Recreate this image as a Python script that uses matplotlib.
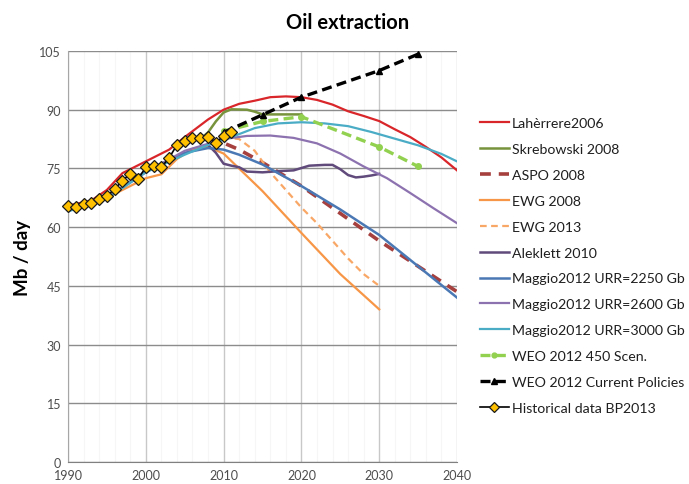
import matplotlib
matplotlib.use("Agg")
import matplotlib.pyplot as plt
import numpy as np

plt.rcParams['font.family'] = ['Lato', 'DejaVu Sans']

# historical production (BP 2013), Mb/day
hist_years = list(range(1990, 2012))
hist_vals = [65.5, 65.1, 65.9, 66.2, 67.2, 68.0, 69.7, 71.9, 73.6, 72.3, 75.3,
             75.5, 75.3, 77.7, 81.0, 82.1, 82.7, 82.7, 83.0, 81.5, 83.4, 84.2]

laherrere_years = [1990, 1993, 1995, 1997, 2000, 2003, 2005, 2008, 2010, 2012, 2014,
                   2016, 2018, 2020, 2022, 2024, 2026, 2028, 2030, 2032, 2034, 2036,
                   2038, 2040]
laherrere_vals = [65.5, 66.8, 69.5, 73.8, 76.8, 79.8, 83.0, 87.5, 90.0, 91.5, 92.3,
                  93.2, 93.4, 93.2, 92.5, 91.3, 89.6, 88.4, 87.1, 85.0, 83.0, 80.5,
                  77.8, 74.5]

skrebowski_years = [2007, 2008, 2009, 2010, 2011, 2013, 2014, 2015, 2020]
skrebowski_vals = [82.5, 84.2, 87.0, 89.3, 90.1, 90.0, 89.5, 88.8, 88.8]

aspo_years = [2008, 2010, 2012, 2015, 2020, 2025, 2030, 2035, 2040]
aspo_vals = [82.5, 81.5, 79.8, 76.5, 70.5, 63.5, 56.5, 50.0, 43.5]

ewg08_years = [1990, 1995, 1999, 2000, 2002, 2004, 2006, 2008, 2010, 2015, 2020, 2025, 2030]
ewg08_vals = [64.8, 67.5, 71.5, 72.5, 73.5, 77.4, 80.0, 80.5, 78.8, 69.2, 58.5, 48.0, 39.0]

ewg13_years = [2010, 2012, 2014, 2016, 2018, 2020, 2022, 2024, 2026, 2028, 2030]
ewg13_vals = [83.0, 82.5, 79.5, 74.0, 69.5, 65.0, 61.0, 56.5, 52.0, 48.0, 45.0]

aleklett_years = [2008, 2009, 2010, 2011, 2012, 2013, 2015, 2017, 2019, 2021, 2023,
                  2024, 2025, 2026, 2027, 2028, 2029, 2030]
aleklett_vals = [81.0, 79.0, 76.2, 75.7, 75.3, 74.2, 74.0, 74.3, 74.5, 75.7, 75.9,
                 75.9, 74.8, 73.3, 72.7, 72.9, 73.2, 73.6]

m2250_years = [1990, 1995, 2000, 2005, 2008, 2010, 2012, 2015, 2020, 2025, 2030, 2035, 2040]
m2250_vals = [64.5, 67.5, 74.3, 79.0, 80.2, 79.8, 78.5, 76.0, 70.5, 64.5, 58.0, 50.0, 42.0]

m2600_years = [1990, 1995, 2000, 2005, 2010, 2013, 2016, 2019, 2022, 2025, 2028, 2031,
               2034, 2037, 2040]
m2600_vals = [64.5, 67.5, 74.0, 79.5, 82.5, 83.3, 83.4, 82.8, 81.4, 78.8, 75.5, 72.5,
              68.7, 64.8, 61.0]

m3000_years = [1990, 1995, 2000, 2005, 2008, 2011, 2014, 2017, 2020, 2023, 2026, 2029,
               2032, 2035, 2038, 2040]
m3000_vals = [64.0, 67.3, 74.0, 78.5, 81.0, 83.0, 85.3, 86.5, 86.8, 86.5, 85.8, 84.3,
              82.6, 80.9, 78.7, 76.8]

weo_years = [2010, 2015, 2020, 2030, 2035]
weo450_vals = [84.5, 87.0, 88.2, 80.5, 75.5]
weocp_vals = [84.2, 88.7, 93.2, 100.0, 104.2]

fig = plt.figure(figsize=(6.89, 4.85), dpi=100)
ax = fig.add_axes([0.0987, 0.0454, 0.5646, 0.8474])

ax.plot(laherrere_years, laherrere_vals, color='#d9262a', lw=1.6, label='Lahèrrere2006')
ax.plot(skrebowski_years, skrebowski_vals, color='#77933c', lw=1.8, label='Skrebowski 2008')
ax.plot(aspo_years, aspo_vals, color='#a5403e', lw=2.6, ls=(0, (3, 2.2)), label='ASPO 2008')
ax.plot(ewg08_years, ewg08_vals, color='#f79646', lw=1.6, label='EWG 2008')
ax.plot(ewg13_years, ewg13_vals, color='#f9a766', lw=1.6, ls=(0, (3, 2)), label='EWG 2013')
ax.plot(aleklett_years, aleklett_vals, color='#604a7b', lw=1.8, label='Aleklett 2010')
ax.plot(m2250_years, m2250_vals, color='#4a78b4', lw=1.8, label='Maggio2012 URR=2250 Gb')
ax.plot(m2600_years, m2600_vals, color='#8d72b0', lw=1.6, label='Maggio2012 URR=2600 Gb')
ax.plot(m3000_years, m3000_vals, color='#4bacc6', lw=1.6, label='Maggio2012 URR=3000 Gb')
ax.plot(weo_years, weo450_vals, color='#92d050', lw=2.4, ls=(0, (3, 1.6)),
        marker='o', ms=4, label='WEO 2012 450 Scen.')
ax.plot(weo_years, weocp_vals, color='black', lw=2.4, ls=(0, (3, 1.6)),
        marker='^', ms=5, label='WEO 2012 Current Policies')
ax.plot(hist_years, hist_vals, color='black', lw=1.2, marker='D', ms=6.5,
        mfc='#ffc000', mec='#1a1a1a', mew=0.9, clip_on=False, zorder=5,
        label='Historical data BP2013')

ax.set_xlim(1990, 2040)
ax.set_ylim(0, 105)
ax.set_xticks(range(1990, 2041, 10))
ax.set_yticks(range(0, 106, 15))
ax.set_xticks(range(1990, 2041, 2), minor=True)
ax.grid(axis='y', color='#8c8c8c', lw=1.0)
ax.grid(axis='x', which='major', color='#c8c8c8', lw=1.0)
ax.grid(axis='x', which='minor', color='#f6f6f6', lw=0.8)
ax.set_axisbelow(True)
ax.tick_params(which='both', length=0, labelsize=9, colors='#4d4d4d', pad=5)
for side in ['top', 'right']:
    ax.spines[side].set_visible(False)
ax.spines['left'].set_color('#a6a6a6')
ax.spines['bottom'].set_color('#808080')

ax.set_ylabel('Mb / day', fontsize=13.5, fontweight='bold', labelpad=6)
fig.text(0.505, 0.952, 'Oil extraction', ha='center', va='center',
         fontsize=14.5, fontweight='bold')

leg = ax.legend(loc='upper left', bbox_to_anchor=(1.027, 0.870), frameon=False,
                fontsize=10.2, handlelength=2.0, handletextpad=0.25, labelspacing=0.98,
                labelcolor='#1f1f1f')
leg.legend_handles[-1].set_markersize(5)
leg.legend_handles[-2].set_markersize(4)
leg.legend_handles[-3].set_markersize(3.5)

fig.savefig('out.png', dpi=100)
